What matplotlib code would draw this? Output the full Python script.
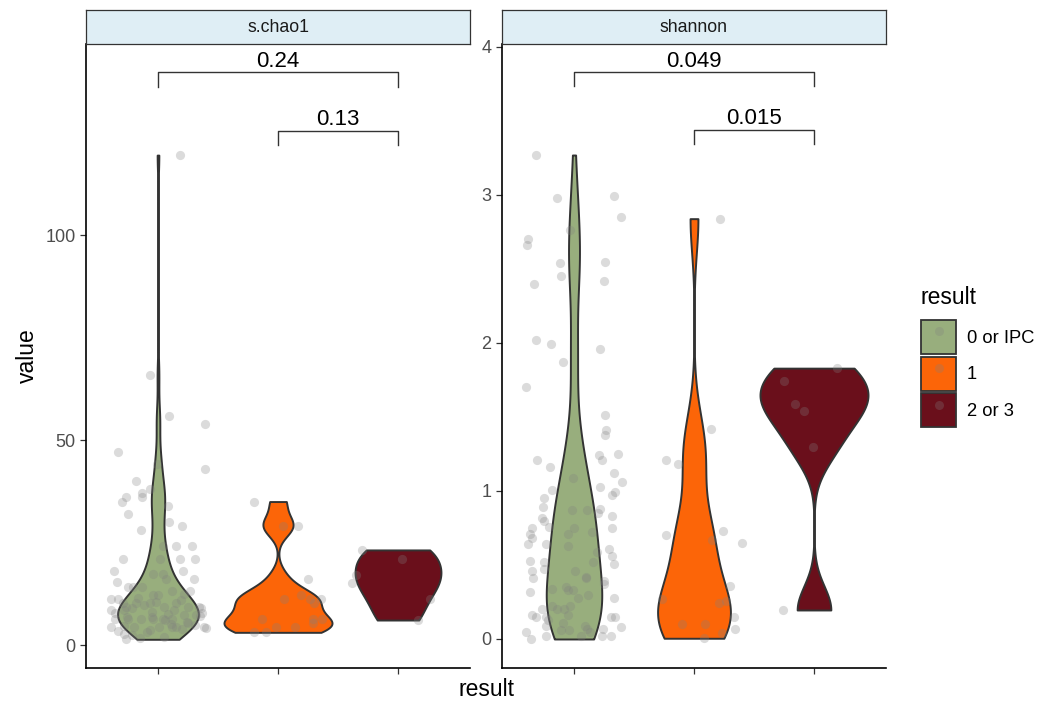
import numpy as np
import matplotlib
matplotlib.use("Agg")
import matplotlib.pyplot as plt
from matplotlib.patches import Patch
from matplotlib.lines import Line2D
from matplotlib.legend_handler import HandlerTuple

plt.rcParams['font.family'] = ['Liberation Sans', 'DejaVu Sans']

# groups / colours
groups = ["0 or IPC", "1", "2 or 3"]
fills = ["#98AE7D", "#FC6508", "#6A0F1B"]

# s.chao1 values and their horizontal jitter
chao1_g0 = [119.5, 65.9, 55.9, 53.9, 47.0, 44.1, 42.9, 40.1, 38.0, 37.1, 36.0, 36.0, 35.0, 34.0,
            32.0, 30.1, 29.1, 28.0, 24.2, 24.2, 24.2, 21.1, 21.1, 21.1, 21.1, 18.1, 18.1, 17.3,
            17.3, 16.1, 16.1, 15.3, 14.2, 14.2, 14.2, 13.2, 13.2, 12.2, 12.2, 11.2, 11.2, 11.0,
            10.3, 10.3, 10.3, 10.3, 9.3, 9.3, 9.3, 9.3, 8.5, 8.5, 7.8, 7.3, 7.3, 6.3, 6.3, 6.3,
            6.3, 6.3, 6.3, 5.3, 4.5, 4.5, 4.5, 4.5, 4.5, 4.5, 4.2, 3.7, 3.5, 3.2, 2.8, 1.4,
            12.5, 11.5, 10.6, 9.8, 9.0, 8.6, 8.0, 7.6, 7.1, 6.8, 6.0, 5.6, 5.1, 4.8, 3.9, 2.5,
            7.7, 9.1, 6.9, 4.7, 2.0, 1.8]
chao1_g0_jit = [0.18, -0.07, 0.09, 0.39, -0.33, -0.01, 0.39, -0.18, -0.07, -0.13, -0.13, -0.27,
                -0.30, 0.08, -0.25, 0.09, 0.20, -0.14, 0.04, 0.15, 0.28, -0.29, 0.02, 0.18, 0.31,
                -0.37, 0.21, -0.04, 0.04, 0.07, 0.30, -0.34, -0.25, -0.21, -0.13, 0.27, 0.12,
                -0.04, 0.00, -0.39, -0.33, 0.19, -0.29, -0.18, -0.07, 0.15, -0.27, 0.05, 0.25,
                0.34, -0.28, -0.39, 0.37, 0.22, 0.32, -0.36, -0.25, -0.14, -0.04, 0.04, 0.12,
                0.25, -0.39, -0.20, 0.01, 0.12, 0.15, 0.38, 0.40, -0.07, -0.33, -0.09, -0.28, -0.27,
                0.22, -0.17, -0.02, -0.12, -0.22, 0.13, -0.05, 0.08, 0.35, -0.26, 0.06, 0.24,
                0.11, 0.31, 0.20, -0.22, -0.36, 0.36, -0.05, -0.28, 0.05, -0.15]
chao1_g1 = [35.0, 29.1, 29.1, 16.2, 12.1, 11.2, 11.2, 11.2, 10.2, 6.3, 6.3, 6.3, 5.3, 4.3, 4.3, 3.1, 3.1]
chao1_g1_jit = [-0.20, 0.04, 0.17, 0.25, 0.19, 0.05, 0.27, 0.36, 0.30, -0.13, 0.29, 0.37, 0.29,
                -0.02, 0.14, -0.20, -0.10]
chao1_g2 = [23.2, 21.1, 17.1, 15.2, 11.2, 6.1]
chao1_g2_jit = [-0.30, 0.03, -0.35, -0.38, 0.27, 0.17]

# shannon
shannon_g0 = [3.27, 2.98, 2.99, 2.85, 2.76, 2.70, 2.66, 2.54, 2.55, 2.45, 2.42, 2.40, 2.02, 1.99,
              1.96, 1.87, 1.70, 1.51, 1.41, 1.38, 1.21, 1.16, 1.24, 1.21, 1.25, 1.12, 1.06, 1.09,
              1.01, 1.03, 0.99, 0.97, 0.95, 0.89, 0.87, 0.87, 0.88, 0.85, 0.83, 0.82, 0.80, 0.76,
              0.75, 0.75, 0.75, 0.71, 0.68, 0.71, 0.72, 0.64, 0.63, 0.64, 0.59, 0.61, 0.56, 0.51,
              0.53, 0.52, 0.52, 0.47, 0.46, 0.41, 0.46, 0.42, 0.41, 0.39, 0.37, 0.32, 0.34, 0.35,
              0.33, 0.33, 0.28, 0.30, 0.28, 0.22, 0.20, 0.20, 0.22, 0.16, 0.20, 0.16, 0.15, 0.15,
              0.15, 0.15, 0.13, 0.11, 0.09, 0.07, 0.05, 0.09, 0.06, 0.06, 0.07, 0.08, 0.00, 0.02,
              0.02, 0.05, 0.02, 0.02]
shannon_g0_jit = [-0.32, -0.14, 0.33, 0.39, -0.03, -0.38, -0.39, -0.12, 0.26, -0.11, 0.25, -0.33,
                  -0.32, -0.19, 0.22, -0.09, -0.40, 0.26, 0.27, 0.26, -0.31, -0.20, 0.21, 0.23,
                  0.37, 0.33, 0.40, -0.01, -0.18, 0.22, 0.34, 0.32, -0.25, -0.26, -0.02, 0.11,
                  0.22, 0.20, 0.32, -0.27, -0.25, -0.21, 0.00, 0.32, -0.35, -0.37, -0.35, -0.05,
                  0.15, -0.38, -0.05, -0.23, 0.19, 0.29, 0.32, 0.33, -0.37, -0.25, 0.16, -0.25,
                  -0.35, -0.34, 0.01, 0.10, 0.10, 0.25, 0.25, -0.37, -0.18, -0.07, -0.05, -0.01,
                  0.03, 0.12, 0.33, -0.18, -0.14, -0.08, -0.03, -0.05, -0.27, -0.35, -0.32, 0.31,
                  0.34, -0.23, -0.22, -0.09, 0.09, 0.11, -0.40, -0.23, -0.11, -0.04, 0.24, 0.39,
                  -0.36, -0.23, 0.06, 0.13, 0.23, 0.31]
shannon_g1 = [2.84, 1.42, 1.21, 1.18, 0.70, 0.73, 0.67, 0.65, 0.36, 0.27, 0.24, 0.26, 0.15, 0.10,
              0.10, 0.07, 0.005, 0.04]
shannon_g1_jit = [0.22, 0.14, -0.23, -0.13, -0.23, 0.24, 0.15, 0.40, 0.30, -0.27, 0.21, 0.27, 0.33,
                  -0.10, 0.09, 0.34, 0.08, 0.23]
shannon_g2 = [1.83, 1.74, 1.59, 1.54, 1.30, 0.196]
shannon_g2_jit = [0.19, -0.25, -0.16, -0.08, -0.01, -0.26]

# significance annotations
chao1_pairs = [(1, 3), (2, 3)]
chao1_pvals = ["0.24", "0.13"]
chao1_bracket_y = [139.7, 125.4]
shannon_pairs = [(1, 3), (2, 3)]
shannon_pvals = ["0.049", "0.015"]
shannon_bracket_y = [3.83, 3.44]

W, H = 1056, 704


def kde_r(vals, n=512):
    # gaussian kernel with R's bw.nrd0, trimmed to data range
    v = np.asarray(vals, dtype=float)
    sd = v.std(ddof=1)
    q75, q25 = np.percentile(v, [75, 25])
    lo = min(sd, (q75 - q25) / 1.34)
    if lo <= 0:
        lo = sd
    bw = 0.9 * lo * len(v) ** -0.2
    y = np.linspace(v.min(), v.max(), n)
    d = np.exp(-0.5 * ((y[:, None] - v[None, :]) / bw) ** 2).sum(1) / (len(v) * bw * np.sqrt(2 * np.pi))
    return y, d


def panel(rect, strip_label, data, jits, ylim, yticks, pairs, pvals, bracket_y, tip):
    l, b, w, h = rect
    ax = fig.add_axes([l / W, 1 - (b + h) / H, w / W, h / H])
    dens = [kde_r(v) for v in data]
    dmax = max(d.max() for _, d in dens)
    for i, ((y, d), vals, jit) in enumerate(zip(dens, data, jits)):
        x0 = i + 1
        hw = 0.45 * d / dmax
        ax.fill_betweenx(y, x0 - hw, x0 + hw, facecolor=fills[i], edgecolor="#333333",
                         linewidth=1.4, zorder=2)
        ax.scatter(x0 + np.array(jit), vals, s=44, color="grey", alpha=0.28,
                   linewidths=0, zorder=3)
    for (a, c), p, yb in zip(pairs, pvals, bracket_y):
        ax.plot([a, a, c, c], [yb - tip, yb, yb, yb - tip], color="#333333", lw=1.0,
                clip_on=False, zorder=4)
        ax.annotate(p, xy=((a + c) / 2, yb), xytext=(0, 4), textcoords="offset points",
                    ha="center", va="baseline", fontsize=16, color="black")
    ax.set_xlim(0.4, 3.6)
    ax.set_ylim(*ylim)
    ax.set_xticks([1, 2, 3])
    ax.set_xticklabels([])
    ax.set_yticks(yticks)
    ax.spines[["top", "right"]].set_visible(False)
    for s in ["left", "bottom"]:
        ax.spines[s].set_linewidth(1.2)
        ax.spines[s].set_color("black")
    ax.tick_params(length=4, width=0.9, color="#333333", labelcolor="#4D4D4D", labelsize=13)
    ax.patch.set_alpha(0)

    # facet strip
    sax = fig.add_axes([l / W, 1 - b / H, w / W, 34 / H])
    sax.set_facecolor("#DFEEF5")
    sax.set_xticks([])
    sax.set_yticks([])
    for s in sax.spines.values():
        s.set_color("#333333")
        s.set_linewidth(0.9)
    sax.text(0.5, 0.5, strip_label, ha="center", va="center", fontsize=12.7,
             color="#1A1A1A", transform=sax.transAxes)
    return ax


fig = plt.figure(figsize=(W / 100, H / 100), dpi=100)

panel((86, 44, 384, 624), "s.chao1", [chao1_g0, chao1_g1, chao1_g2],
      [chao1_g0_jit, chao1_g1_jit, chao1_g2_jit], (-5.6, 146.6), [0, 50, 100],
      chao1_pairs, chao1_pvals, chao1_bracket_y, 3.5)
panel((502, 44, 384, 624), "shannon", [shannon_g0, shannon_g1, shannon_g2],
      [shannon_g0_jit, shannon_g1_jit, shannon_g2_jit], (-0.196, 4.02), [0, 1, 2, 3, 4],
      shannon_pairs, shannon_pvals, shannon_bracket_y, 0.095)

fig.text(487 / W, 1 - 689 / H, "result", ha="center", va="center", fontsize=16.5)
fig.text(27 / W, 1 - 356 / H, "value", ha="center", va="center", rotation=90, fontsize=16.5)

# legend: title drawn separately so the gap above the keys matches
fig.text(921 / W, 1 - 297 / H, "result", ha="left", va="center", fontsize=16.5)
handles = [(Patch(facecolor=c, edgecolor="#333333", linewidth=1.3),
            Line2D([], [], marker="o", ls="", color="grey", alpha=0.28, markersize=6.5,
                   markeredgewidth=0)) for c in fills]
fig.legend(handles, groups, loc="upper left",
           bbox_to_anchor=(921 / W, 1 - 320 / H), frameon=False, fontsize=13.2,
           borderpad=0, borderaxespad=0,
           handlelength=1.91, handleheight=2.48, labelspacing=0.14, handletextpad=0.6,
           handler_map={tuple: HandlerTuple(ndivide=1, pad=0)})

fig.savefig("out.png", dpi=100)
